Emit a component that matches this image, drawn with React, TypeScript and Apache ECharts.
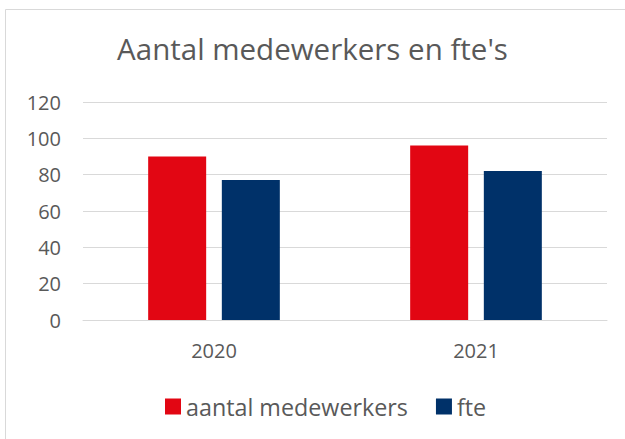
import React, { useEffect, useRef } from "react";
import * as echarts from "echarts";

const categories = ["2020", "2021"];
const seriesNames = ["aantal medewerkers", "fte"];
const medewerkers = [90, 96];
const fte = [77, 82];
const colors = ["#e20613", "#003169"];

export default function App() {
  const ref = useRef<HTMLDivElement>(null);
  useEffect(() => {
    if (!ref.current) return;
    const chart = echarts.init(ref.current, null, { renderer: "svg" });
    const font = "'Open Sans', 'Noto Sans', sans-serif";
    chart.setOption({
      animation: false,
      textStyle: { fontFamily: font },
      graphic: [
        {
          type: "rect",
          shape: { x: 5.5, y: 9.5, width: 640, height: 460 },
          style: { fill: "none", stroke: "#d9d9d9", lineWidth: 1 },
          silent: true,
        },
      ],
      title: {
        text: "Aantal medewerkers en fte's",
        left: "center",
        top: 28,
        textStyle: { fontFamily: font, fontSize: 29.5, fontWeight: "normal", color: "#595959" },
      },
      legend: {
        data: seriesNames,
        top: 390,
        left: 160,
        icon: "rect",
        itemWidth: 16,
        itemHeight: 16,
        itemGap: 28,
        textStyle: { fontFamily: font, fontSize: 23.3, color: "#595959" },
      },
      grid: { left: 83, right: 18, top: 102, bottom: 119 },
      xAxis: {
        type: "category",
        data: categories,
        axisLine: { lineStyle: { color: "#d9d9d9" } },
        axisTick: { show: false },
        axisLabel: { fontFamily: font, fontSize: 20, color: "#595959", margin: 20 },
      },
      yAxis: {
        type: "value",
        min: 0,
        max: 120,
        interval: 20,
        axisLine: { show: false },
        axisTick: { show: false },
        splitLine: { lineStyle: { color: "#d9d9d9" } },
        axisLabel: { fontFamily: font, fontSize: 20, color: "#595959", margin: 22 },
      },
      series: [
        {
          name: seriesNames[0],
          type: "bar",
          data: medewerkers,
          barWidth: 58,
          barGap: "27%",
          itemStyle: { color: colors[0] },
        },
        {
          name: seriesNames[1],
          type: "bar",
          data: fte,
          barWidth: 58,
          itemStyle: { color: colors[1] },
        },
      ],
    });
    return () => chart.dispose();
  }, []);
  return (
    <div
      ref={ref}
      style={{ position: "fixed", left: 0, top: 0, width: 625, height: 439, background: "#fff" }}
    />
  );
}
